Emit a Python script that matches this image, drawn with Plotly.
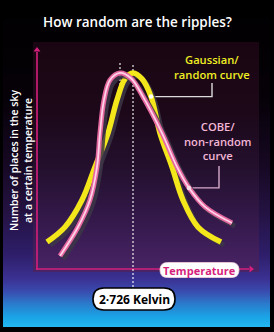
import plotly.graph_objects as go

# ---------------- data ----------------
# temperature: offset from the 2.726 K peak (arbitrary units); count: number of places (arbitrary units)
gauss_temp = [-43, -34, -25.5, -19, -12.5, -8, -4, 0, 4.5, 9, 13.5, 19.5, 25, 32.5, 44]
gauss_count = [12.2, 19.0, 31.2, 46.2, 61.5, 76.5, 86, 88.7, 86, 78, 61.5, 46.2, 31.2, 19.0, 12.2]
cobe_temp = [-36.5, -27.5, -21.5, -18, -16.5, -14.5, -11.5, -6.5, -1, 5, 14.5, 22, 28, 36, 49.5]
cobe_count = [5.9, 19.0, 31.2, 46.2, 61.5, 76.5, 85.5, 88.7, 86.3, 78, 61.5, 46.2, 36.7, 28.1, 20.8]
peak_label = "2·726 Kelvin"
title_text = "How random are the ripples?"
ylabel_lines = ["Number of places in the sky", "at a certain temperature"]
gauss_label = ["Gaussian/", "random curve"]
cobe_label = ["COBE/", "non-random", "curve"]
xlabel_text = "Temperature"

W, H = 274, 332


# pixel -> data helpers for decorations (plot area fills the whole figure)
def X(px):
    return (px - 133) / 2.0


def Y(py):
    return (269 - py) / 2.21


FONT = "Open Sans"
MAGENTA = "#d61f7c"
YELLOW = "#f3e61b"
PINK = "#e4669f"
PINK_CORE = "#ffd2e8"

fig = go.Figure()


def grad_heatmap(px0, px1, py0, py1, stops):
    yedges = [Y(p) for p in range(py1, py0 - 1, -1)]
    z = [[(p + 0.5 - py0) / (py1 - py0)] for p in range(py1 - 1, py0 - 1, -1)]
    return go.Heatmap(x=[X(px0), X(px1)], y=yedges, z=z, colorscale=stops,
                      zmin=0, zmax=1, showscale=False, hoverinfo="skip")


outer_stops = [[0.0, "#000000"], [0.30, "#060108"], [0.50, "#160822"], [0.65, "#241242"],
               [0.78, "#2e1e6a"], [0.85, "#3a3090"], [0.89, "#3a4aae"], [0.93, "#2a7ccc"],
               [0.97, "#1aa4e6"], [1.0, "#24b8f0"]]
inner_stops = [[0.0, "#1a0612"], [0.3, "#1c0818"], [0.55, "#24102e"], [0.8, "#361a4e"],
               [1.0, "#4a2466"]]
fig.add_trace(grad_heatmap(3, 270, 0, 327, outer_stops))
fig.add_trace(grad_heatmap(33, 259, 42, 272, inner_stops))

# axes (drawn as lines with arrowheads)
line_kw = dict(mode="lines", hoverinfo="skip", showlegend=False)
fig.add_trace(go.Scatter(x=[X(37), X(37)], y=[Y(270), Y(52)], line=dict(color=MAGENTA, width=1.6), **line_kw))
fig.add_trace(go.Scatter(x=[X(36), X(249)], y=[Y(269), Y(269)], line=dict(color=MAGENTA, width=1.6), **line_kw))
fig.add_trace(go.Scatter(x=[X(37)], y=[Y(50)], mode="markers", hoverinfo="skip",
                         marker=dict(symbol="triangle-up", size=6, color=MAGENTA)))
fig.add_trace(go.Scatter(x=[X(251)], y=[Y(269)], mode="markers", hoverinfo="skip",
                         marker=dict(symbol="triangle-right", size=6, color=MAGENTA)))

# peak marker lines
g_peak = gauss_temp[gauss_count.index(max(gauss_count))]
c_peak = cobe_temp[cobe_count.index(max(cobe_count))]
fig.add_trace(go.Scatter(x=[g_peak, g_peak], y=[Y(65), Y(287)],
                         line=dict(color="white", width=1.1, dash="2px,2px"), **line_kw))
fig.add_trace(go.Scatter(x=[c_peak, c_peak], y=[Y(63), Y(96)],
                         line=dict(color="white", width=1.1, dash="2px,2px"), **line_kw))

# callout lines
g_dot = (gauss_temp[9], gauss_count[9])
c_dot = (cobe_temp[12], cobe_count[12])
fig.add_trace(go.Scatter(x=[g_dot[0], X(212), X(212)], y=[g_dot[1], g_dot[1], Y(83)],
                         line=dict(color="#dcdcdc", width=1.4), **line_kw))
fig.add_trace(go.Scatter(x=[c_dot[0], X(219), X(219)], y=[c_dot[1], c_dot[1], Y(166)],
                         line=dict(color="#d8aacb", width=1.4), **line_kw))

# curves with shadows
dx, dy = 1.5, -1.4
shadow = "rgba(60,54,70,0.85)"
fig.add_trace(go.Scatter(x=[t + dx for t in gauss_temp], y=[c + dy for c in gauss_count],
                         line=dict(color=shadow, width=5, shape="spline", smoothing=1.0), **line_kw))
fig.add_trace(go.Scatter(x=gauss_temp, y=gauss_count,
                         line=dict(color=YELLOW, width=5.5, shape="spline", smoothing=1.0), **line_kw))
fig.add_trace(go.Scatter(x=[t + dx for t in cobe_temp], y=[c + dy for c in cobe_count],
                         line=dict(color=shadow, width=5, shape="spline", smoothing=1.0), **line_kw))
fig.add_trace(go.Scatter(x=cobe_temp, y=cobe_count,
                         line=dict(color=PINK, width=5, shape="spline", smoothing=1.0), **line_kw))
fig.add_trace(go.Scatter(x=cobe_temp, y=cobe_count,
                         line=dict(color=PINK_CORE, width=1.8, shape="spline", smoothing=1.0), **line_kw))

# callout dots
fig.add_trace(go.Scatter(x=[g_dot[0], c_dot[0]], y=[g_dot[1], c_dot[1]], mode="markers", hoverinfo="skip",
                         marker=dict(size=4.5, color=["#ffffff", "#f4dce8"])))


def pill(w, h, r):
    a, b = w / 2.0, h / 2.0
    return (f"M {-a + r},{-b} L {a - r},{-b} Q {a},{-b} {a},{-b + r} L {a},{b - r} "
            f"Q {a},{b} {a - r},{b} L {-a + r},{b} Q {-a},{b} {-a},{b - r} "
            f"L {-a},{-b + r} Q {-a},{-b} {-a + r},{-b} Z")


shapes = [
    dict(type="path", xsizemode="pixel", ysizemode="pixel", xanchor=X(199.5), yanchor=Y(270),
         path=pill(79, 15, 7.5), fillcolor="white", line=dict(color="#f4d0e0", width=0.8), layer="above"),
    dict(type="path", xsizemode="pixel", ysizemode="pixel", xanchor=X(134), yanchor=Y(299),
         path=pill(82, 22, 11), fillcolor="white", line=dict(color="black", width=1.6), layer="above"),
]


def txt(s, px, py, size, color, angle=0, weight=700):
    return dict(text=s, x=X(px), y=Y(py), xref="x", yref="y", showarrow=False, textangle=angle,
                borderpad=0, font=dict(family=FONT, size=size, color=color, weight=weight))


annotations = [
    txt(title_text, 137, 22, 13.5, "white", weight=600),
    txt("<br>".join(ylabel_lines), 20.5, 160.5, 10.5, "white", angle=-90, weight=600),
    txt("<br>".join(gauss_label), 212, 66.5, 11.2, "#f0ee22", weight=600),
    txt("<br>".join(cobe_label), 218, 141, 11.2, "#f2b6d6", weight=600),
    txt(xlabel_text, 199.5, 270, 11, MAGENTA, weight=700),
    txt(peak_label, 134, 299, 12, "black", weight=700),
]

fig.update_layout(
    width=W, height=H, margin=dict(l=0, r=0, t=0, b=0),
    paper_bgcolor="black", plot_bgcolor="black", showlegend=False,
    xaxis=dict(range=[X(0), X(W)], visible=False, fixedrange=True),
    yaxis=dict(range=[Y(H), Y(0)], visible=False, fixedrange=True),
    shapes=shapes, annotations=annotations,
)

fig.write_html("out.html", config={"displayModeBar": False})
